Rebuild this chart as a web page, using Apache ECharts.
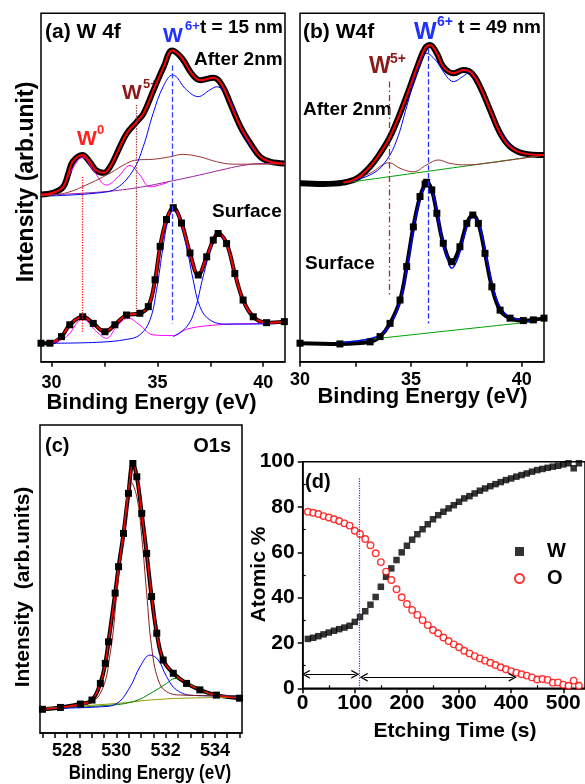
<!DOCTYPE html>
<html>
<head>
<meta charset="utf-8">
<script src="https://cdn.jsdelivr.net/npm/echarts@6/dist/echarts.min.js"></script>
<style>
  html, body { margin: 0; padding: 0; background: #fff; }
  #chart { width: 585px; height: 784px; }
</style>
</head>
<body>
<div id="chart"></div>
<script>
const FONT = '"Liberation Sans", Arial, sans-serif'

// (a) W 4f, t = 15 nm -- after 2 nm etching (upper curve)
const aTopE = [29.5, 30.07, 30.55, 30.8, 31.0, 31.46, 31.8, 32.1, 32.45, 32.77, 33.16, 33.56, 34.03, 34.35, 34.82, 35.3, 35.7, 36.16, 36.63, 37.03, 37.66, 38.05, 38.44, 38.92, 39.39, 39.86, 40.33, 41.0]
const aTopI = [48.0, 48.5, 50.2, 54.2, 57.4, 59.3, 57.4, 55.0, 54.2, 56.0, 60.8, 65.6, 68.9, 71.3, 78.0, 84.7, 89.3, 87.1, 82.6, 80.8, 81.5, 79.4, 74.2, 67.5, 62.7, 58.8, 57.4, 56.9]
const aTopBlueE = [30.0, 32.28, 33.07, 33.86, 34.33, 34.8, 35.27, 35.72, 36.38, 36.93, 37.48, 37.8, 38.43, 38.9, 39.53, 40.16, 41.0]
const aTopBlueI = [47.6, 48.5, 49.8, 55.0, 61.7, 71.3, 78.9, 82.3, 78.0, 76.1, 78.0, 78.9, 75.1, 67.5, 60.8, 57.9, 56.9]
const aTopBrownE = [29.5, 30.71, 31.81, 32.76, 33.54, 34.02, 34.8, 35.59, 36.19, 37.01, 37.8, 38.58, 41.0]
const aTopBrownI = [47.6, 48.5, 51.2, 54.1, 56.9, 57.9, 58.1, 58.8, 59.5, 58.8, 57.4, 56.7, 56.7]
const aTopW0E = [29.5, 30.39, 30.95, 31.47, 31.97, 32.6, 33.15, 33.7, 34.17, 34.65, 35.5]
const aTopW0I = [47.8, 49.3, 55.0, 58.7, 55.0, 50.7, 53.1, 56.3, 53.6, 50.2, 51.5]
const aTopBgE = [29.5, 32.3, 34.0, 35.7, 37.0, 38.0, 39.0, 40.0, 41.0]
const aTopBgI = [47.8, 48.7, 49.9, 51.9, 53.6, 55.0, 56.3, 56.9, 56.9]

// (a) surface (lower curve)
const aSurfE = [29.5, 29.92, 30.47, 30.86, 31.47, 31.97, 32.52, 32.99, 33.54, 34.17, 34.57, 34.89, 35.13, 35.43, 35.75, 36.14, 36.54, 36.93, 37.33, 37.64, 37.87, 38.27, 38.66, 39.05, 39.53, 40.16, 41.0]
const aSurfI = [5.3, 5.3, 7.2, 10.6, 12.9, 11.0, 8.6, 10.6, 13.4, 13.9, 15.8, 23.5, 33.1, 40.8, 44.2, 39.8, 31.2, 24.9, 30.1, 34.9, 36.8, 33.9, 25.3, 17.7, 12.9, 11.2, 11.5]
const aSurfBlue1E = [30.0, 32.28, 33.54, 34.17, 34.65, 34.96, 35.27, 35.51, 35.75, 36.06, 36.38, 36.69, 37.01, 37.48, 38.27, 39.53, 40.47]
const aSurfBlue1I = [5.3, 5.6, 6.4, 7.7, 12.0, 20.6, 33.0, 40.7, 43.3, 40.7, 33.0, 23.5, 15.8, 12.0, 10.8, 10.8, 11.0]
const aSurfBlue2E = [35.75, 36.38, 36.77, 37.16, 37.56, 37.87, 38.19, 38.58, 38.98, 39.53, 40.16, 40.47]
const aSurfBlue2I = [7.2, 10.0, 14.8, 24.4, 33.0, 36.4, 34.4, 27.3, 18.7, 12.9, 11.2, 11.0]
const aSurfMagE = [30.0, 30.71, 31.47, 32.13, 32.6, 33.07, 33.62, 34.17, 34.8, 35.75, 36.38, 37.33, 38.58, 40.47]
const aSurfMagI = [5.3, 7.2, 12.2, 8.6, 6.7, 10.0, 12.5, 10.5, 7.7, 7.5, 9.3, 10.3, 10.8, 11.0]
// W0 / W5+ / W6+ guide lines in (a)
const aMarkE = [31.47, 34.02, 35.72]
const aMarkTop = [53.0, 73.7, 85.0]
const aMarkBottom = [8.6, 13.9, 11.0]

// (b) W4f, t = 49 nm
const bTopE = [30.0, 31.05, 31.95, 32.56, 33.16, 33.61, 34.06, 34.51, 34.96, 35.34, 35.64, 35.86, 36.17, 36.46, 36.91, 37.37, 37.74, 38.12, 38.57, 39.02, 39.47, 40.07, 41.0]
const bTopI = [51.2, 51.0, 51.4, 52.6, 56.0, 59.8, 64.6, 71.3, 78.9, 85.6, 90.0, 90.9, 88.5, 84.7, 82.8, 83.7, 82.8, 78.9, 72.2, 65.6, 61.7, 59.8, 59.3]
const bTopBlueE = [32.1, 33.31, 33.91, 34.36, 34.81, 35.26, 35.71, 36.17, 36.62, 36.91, 37.37, 37.67, 38.12, 38.57, 39.17, 40.07, 41.0]
const bTopBlueI = [51.4, 54.1, 57.9, 63.6, 73.2, 82.8, 88.5, 86.1, 81.8, 80.4, 82.0, 83.2, 78.9, 72.2, 64.6, 59.8, 59.3]
const bTopBrownE = [32.1, 33.16, 34.03, 34.51, 35.11, 35.71, 36.24, 36.77, 37.52, 38.57, 41.0]
const bTopBrownI = [51.4, 54.1, 57.1, 55.5, 54.5, 56.5, 57.9, 56.9, 56.5, 57.1, 59.3]
const bTopBgE = [32.0, 41.0]
const bTopBgI = [51.3, 59.3]
const bSurfE = [30.0, 31.8, 33.16, 33.61, 34.06, 34.51, 34.81, 35.11, 35.41, 35.64, 35.71, 35.94, 36.17, 36.46, 36.84, 37.21, 37.52, 37.79, 38.04, 38.34, 38.65, 39.02, 39.47, 40.07, 40.52, 41.0]
const bSurfI = [5.3, 5.1, 5.7, 7.2, 11.0, 17.7, 27.3, 38.7, 47.4, 51.0, 51.5, 49.3, 42.6, 34.0, 28.7, 33.0, 39.7, 42.1, 39.7, 31.1, 21.5, 14.8, 12.5, 11.8, 12.0, 12.5]
const bSurfBlueE = [31.95, 33.46, 34.06, 34.51, 34.81, 35.19, 35.49, 35.71, 36.01, 36.32, 36.62, 36.84, 37.14, 37.52, 37.79, 38.12, 38.49, 38.87, 39.32, 39.92, 40.52]
const bSurfBlueI = [5.6, 7.2, 10.5, 17.2, 26.3, 40.7, 48.3, 50.7, 47.8, 37.8, 30.1, 26.8, 30.1, 38.7, 41.6, 38.3, 27.3, 17.7, 13.4, 12.0, 11.5]
const bSurfBgE = [31.95, 40.52]
const bSurfBgI = [5.6, 11.5]
const bMarkE = [34.02, 35.76]
const bMarkTop = [80.4, 90.0]
const bMarkBottom = [18.7, 11.0]

// (c) O1s
const cE = [527.0, 527.73, 528.54, 529.01, 529.35, 529.55, 529.68, 529.95, 530.09, 530.29, 530.49, 530.67, 530.83, 531.03, 531.23, 531.43, 531.64, 531.9, 532.31, 532.85, 533.39, 534.06, 535.0]
const cI = [7.7, 8.3, 9.4, 10.7, 16.1, 22.6, 29.6, 45.4, 54.0, 64.8, 77.8, 87.5, 83.2, 71.3, 58.3, 44.3, 32.4, 23.7, 19.4, 16.1, 14.0, 12.3, 11.3]
const cBrownE = [527.0, 528.67, 529.35, 529.75, 530.02, 530.29, 530.59, 530.83, 531.03, 531.23, 531.43, 531.7, 532.04, 532.71, 535.0]
const cBrownI = [8.0, 9.1, 12.9, 25.9, 45.4, 65.9, 81.6, 76.7, 63.7, 45.4, 28.0, 17.2, 13.4, 12.3, 12.0]
const cBlueE = [527.0, 529.35, 530.02, 530.56, 530.96, 531.37, 531.7, 532.04, 532.44, 533.12, 535.0]
const cBlueI = [8.0, 8.5, 9.6, 15.0, 21.5, 25.3, 23.7, 18.3, 14.0, 12.2, 12.0]
const cGreenE = [527.0, 529.35, 530.69, 531.5, 532.04, 532.38, 532.85, 533.39, 534.06, 535.0]
const cGreenI = [8.0, 8.8, 10.2, 13.4, 16.1, 17.7, 16.7, 14.0, 12.2, 12.0]
const cBgE = [527.0, 530.02, 531.37, 532.71, 535.0]
const cBgI = [8.0, 9.6, 10.7, 11.3, 11.6]

// (d) depth profile
const dTime = [10, 20, 30, 40, 50, 60, 70, 80, 90, 100, 110, 120, 130, 140, 150, 160, 170, 180, 190, 200,
  210, 220, 230, 240, 250, 260, 270, 280, 290, 300, 310, 320, 330, 340, 350, 360, 370, 380, 390, 400,
  410, 420, 430, 440, 450, 460, 470, 480, 490, 500, 510, 520, 530]
const dW = [21.8, 22.3, 23.0, 23.8, 24.6, 25.4, 26.1, 26.8, 27.6, 29.3, 31.5, 34.0, 36.9, 40.3, 44.8, 49.2, 52.9, 56.6, 60.0, 62.9,
  65.6, 68.0, 70.2, 72.4, 74.6, 76.4, 77.9, 79.4, 80.8, 82.3, 83.8, 84.8, 86.0, 87.2, 88.2, 89.2, 90.1, 91.0, 91.9, 92.6,
  93.4, 94.1, 94.8, 95.6, 96.3, 96.8, 97.3, 97.8, 98.2, 98.8, 99.3, 97.1, 99.3]
const dO = [77.9, 77.5, 76.9, 76.0, 75.4, 74.6, 73.8, 72.8, 71.8, 69.5, 68.1, 65.9, 63.1, 59.6, 55.7, 51.5, 47.8, 43.7, 40.2, 37.2,
  34.6, 32.4, 30.1, 27.9, 25.7, 24.3, 22.4, 20.9, 19.4, 18.1, 16.6, 15.4, 14.2, 13.2, 12.2, 11.3, 10.3, 9.3, 8.4, 7.6,
  6.9, 6.2, 5.6, 4.8, 3.9, 4.1, 3.7, 2.5, 2.6, 1.6, 1.1, 3.4, 1.1]
const dArrowFrom = [6, 117]
const dArrowTo = [101, 403]
const dArrowY = [6.2, 4.9]
const dMarkT = 108
const dMarkTop = 93

const pts = (xs, ys) => xs.map((x, i) => [x, ys[i]])

function curve (g, xs, ys, color, width, extra) {
  return Object.assign({
    type: 'line', xAxisIndex: g, yAxisIndex: g, data: pts(xs, ys),
    smooth: 0.4, symbol: 'none', silent: true,
    lineStyle: { color: color, width: width }
  }, extra || {})
}

function squares (g, xs, ys) {
  return {
    type: 'line', xAxisIndex: g, yAxisIndex: g, data: pts(xs, ys),
    smooth: 0.4, symbol: 'rect', symbolSize: 7, showAllSymbol: true, silent: true,
    itemStyle: { color: '#000' }, lineStyle: { color: '#000', width: 4 }
  }
}

function vline (x, y0, y1, color, type) {
  return [{ coord: [x, y0], lineStyle: { color: color, type: type, width: 1.3 } }, { coord: [x, y1] }]
}

function txt (text, x, y, size, color, align, extra) {
  return Object.assign({
    type: 'text', x: x, y: y, silent: true,
    style: {
      text: text, fontSize: size, fontWeight: 'bold', fontFamily: FONT,
      fill: color || '#000', align: align || 'left', verticalAlign: 'middle'
    }
  }, extra || {})
}

const frame = { show: true, borderColor: '#000', borderWidth: 1.5 }
const blackLine = { show: true, onZero: false, lineStyle: { color: '#000', width: 1.5 } }
const tickLbl = { fontSize: 18, fontWeight: 'bold', color: '#000', fontFamily: FONT }

function energyAxis (g, min, max, ticks, labels, margin) {
  return {
    gridIndex: g, type: 'value', min: min, max: max,
    axisLine: blackLine,
    axisTick: { show: true, inside: false, length: 5, lineStyle: { color: '#000', width: 1.5 }, customValues: ticks },
    axisLabel: Object.assign({ customValues: labels, margin: margin }, tickLbl),
    splitLine: { show: false }
  }
}

const arrowHead = 'path://M0,10 L5,0 L10,10 L8.4,10 L5,3.2 L1.6,10 Z'

const option = {
  animation: false,
  backgroundColor: '#fff',
  grid: [
    Object.assign({ left: 41, top: 13.3, width: 244, height: 348.4 }, frame),
    Object.assign({ left: 300, top: 13.3, width: 244, height: 348.4 }, frame),
    Object.assign({ left: 40, top: 425, width: 202, height: 308 }, frame),
    Object.assign({ left: 302.7, top: 461.7, width: 283.3, height: 226.6 }, frame)
  ],
  xAxis: [
    energyAxis(0, 29.5, 41.03, [30, 32.5, 35, 37.5, 40], [30, 35, 40], 12),
    energyAxis(1, 30, 41, [30, 32.5, 35, 37.5, 40], [30, 35, 40], 9),
    energyAxis(2, 526.9, 535.1, [527, 527.5, 528, 528.5, 529, 529.5, 530, 530.5, 531, 531.5, 532, 532.5, 533, 533.5, 534, 534.5, 535], [528, 530, 532, 534], 9),
    {
      gridIndex: 3, type: 'value', min: 0, max: 541.7,
      axisLine: blackLine,
      axisTick: { show: true, inside: false, length: 5, lineStyle: { color: '#000', width: 1.5 }, customValues: [0, 100, 200, 300, 400, 500] },
      axisLabel: { customValues: [0, 100, 200, 300, 400, 500], margin: 4, fontSize: 21, fontWeight: 'bold', color: '#000', fontFamily: FONT },
      splitLine: { show: false }
    },
    {
      gridIndex: 3, type: 'value', min: 0, max: 541.7,
      axisLine: { show: false },
      axisTick: { show: true, inside: false, length: 3, lineStyle: { color: '#000', width: 1.2 }, customValues: [50, 150, 250, 350, 450] },
      axisLabel: { show: false },
      splitLine: { show: false }
    }
  ],
  yAxis: [
    { gridIndex: 0, type: 'value', min: 0, max: 100, show: false },
    { gridIndex: 1, type: 'value', min: 0, max: 100, show: false },
    { gridIndex: 2, type: 'value', min: 0, max: 100, show: false },
    {
      gridIndex: 3, type: 'value', min: 0, max: 100, interval: 20,
      axisLine: blackLine,
      axisTick: { show: true, inside: false, length: 5, lineStyle: { color: '#000', width: 1.5 } },
      axisLabel: { margin: 8, fontSize: 21, fontWeight: 'bold', color: '#000', fontFamily: FONT },
      splitLine: { show: false }
    },
    {
      gridIndex: 3, type: 'value', min: 0, max: 100,
      axisLine: { show: false },
      axisTick: { show: true, inside: false, length: 3, lineStyle: { color: '#000', width: 1.2 }, customValues: [10, 30, 50, 70, 90] },
      axisLabel: { show: false },
      splitLine: { show: false }
    }
  ],
  legend: {
    data: ['W', 'O'],
    orient: 'vertical',
    left: 509,
    top: 536,
    itemWidth: 9,
    itemHeight: 9,
    itemGap: 6,
    selectedMode: false,
    textStyle: { fontSize: 20, fontWeight: 'bold', color: '#000', fontFamily: FONT, lineHeight: 21, padding: [0, 0, 0, 18] }
  },
  series: [
    // (a) after 2 nm
    curve(0, aTopE, aTopI, '#000', 6),
    curve(0, aTopBgE, aTopBgI, '#a020a0', 1),
    curve(0, aTopW0E, aTopW0I, '#ff00ff', 1),
    curve(0, aTopBrownE, aTopBrownI, '#993333', 1),
    curve(0, aTopBlueE, aTopBlueI, '#0000ff', 1),
    curve(0, aTopE, aTopI, '#ff0000', 2),
    // (a) surface
    Object.assign(squares(0, aSurfE, aSurfI), {
      markLine: {
        silent: true, symbol: ['none', 'none'], label: { show: false },
        data: [
          vline(aMarkE[0], aMarkTop[0], aMarkBottom[0], '#ff2020', 'dotted'),
          vline(aMarkE[1], aMarkTop[1], aMarkBottom[1], '#993333', 'dotted'),
          vline(aMarkE[2], aMarkTop[2], aMarkBottom[2], '#3344ff', 'dashed')
        ]
      }
    }),
    curve(0, aSurfMagE, aSurfMagI, '#ff00ff', 1),
    curve(0, aSurfBlue1E, aSurfBlue1I, '#0000ff', 1),
    curve(0, aSurfBlue2E, aSurfBlue2I, '#0000ff', 1),
    curve(0, aSurfE.slice(1), aSurfI.slice(1), '#ff0000', 2),
    // (b) after 2 nm
    curve(1, bTopE, bTopI, '#000', 6),
    curve(1, bTopBgE, bTopBgI, '#00a000', 1),
    curve(1, bTopBrownE, bTopBrownI, '#993333', 1),
    curve(1, bTopBlueE, bTopBlueI, '#0000ff', 1),
    curve(1, bTopE.slice(2), bTopI.slice(2), '#ff0000', 2),
    // (b) surface
    Object.assign(squares(1, bSurfE, bSurfI), {
      markLine: {
        silent: true, symbol: ['none', 'none'], label: { show: false },
        data: [
          vline(bMarkE[0], bMarkTop[0], bMarkBottom[0], '#993333', [6, 3, 1.5, 3]),
          vline(bMarkE[1], bMarkTop[1], bMarkBottom[1], '#2233ff', 'dashed')
        ]
      }
    }),
    curve(1, bSurfBgE, bSurfBgI, '#00a000', 1),
    curve(1, bSurfBlueE, bSurfBlueI, '#0000ff', 1.5),
    // (c) O1s
    squares(2, cE, cI),
    curve(2, cBgE, cBgI, '#999900', 1),
    curve(2, cGreenE, cGreenI, '#008000', 1),
    curve(2, cBlueE, cBlueI, '#0000ff', 1),
    curve(2, cBrownE, cBrownI, '#8b1a1a', 1),
    curve(2, cE, cI, '#ff0000', 1.5),
    // (d) atomic %
    {
      name: 'W', type: 'scatter', xAxisIndex: 3, yAxisIndex: 3, data: pts(dTime, dW),
      symbol: 'rect', symbolSize: 6.5, itemStyle: { color: '#000' }, silent: true,
      markLine: {
        silent: true, label: { show: false }, symbol: [arrowHead, arrowHead], symbolSize: [9, 8],
        lineStyle: { color: '#000', type: 'solid', width: 1.2 },
        data: [
          [{ coord: [dArrowFrom[0], dArrowY[0]] }, { coord: [dArrowTo[0], dArrowY[0]] }],
          [{ coord: [dArrowFrom[1], dArrowY[1]] }, { coord: [dArrowTo[1], dArrowY[1]] }],
          [{ coord: [dMarkT, 0], symbol: 'none', lineStyle: { color: '#3333ff', type: 'dotted', width: 1.2 } }, { coord: [dMarkT, dMarkTop], symbol: 'none' }]
        ]
      }
    },
    {
      name: 'O', type: 'scatter', xAxisIndex: 3, yAxisIndex: 3, data: pts(dTime, dO),
      symbol: 'circle', symbolSize: 6.5, silent: true,
      itemStyle: { color: '#fff', borderColor: '#ff0000', borderWidth: 1.4 }
    }
  ],
  graphic: [
    // (a)
    txt('(a) W 4f', 45, 32, 21),
    txt('W', 163, 36, 21, '#2030ff'),
    txt('6+', 185, 26, 13, '#2030ff'),
    txt('t = 15 nm', 200, 28, 19),
    txt('After 2nm', 194, 60, 19),
    txt('W', 122, 93, 21, '#8b1a1a'),
    txt('5+', 143, 84, 13, '#8b1a1a'),
    txt('W', 77, 139, 21, '#ff2020'),
    txt('0', 97, 130, 13, '#ff2020'),
    txt('Surface', 212, 212, 19),
    txt('Intensity (arb.unit)', 27, 182, 23, '#000', 'center', { rotation: Math.PI / 2 }),
    txt('Binding Energy (eV)', 151.5, 403, 22, '#000', 'center'),
    // (b)
    txt('(b) W4f', 303, 32, 21),
    txt('W', 414, 32, 24, '#2030ff'),
    txt('6+', 437, 22, 14, '#2030ff'),
    txt('t = 49 nm', 458, 28, 19),
    txt('W', 369, 67, 23, '#8b1a1a'),
    txt('5+', 390, 59, 14, '#8b1a1a'),
    txt('After 2nm', 303, 110, 19),
    txt('Surface', 305, 264, 19),
    txt('Binding Energy (eV)', 422.5, 397, 22, '#000', 'center'),
    // (c)
    txt('(c)', 45, 446, 20),
    txt('O1s', 231, 446, 20, '#000', 'right'),
    txt('Intensity  (arb.units)', 23, 587, 21, '#000', 'center', { rotation: Math.PI / 2 }),
    txt('Binding Energy (eV)', 150, 773, 20, '#000', 'center', { scaleX: 0.85 }),
    // (d)
    txt('(d)', 305, 482, 20),
    txt('Atomic %', 259.5, 574.5, 21, '#000', 'center', { rotation: Math.PI / 2 }),
    txt('Etching Time (s)', 455, 731, 21, '#000', 'center')
  ]
}

const chart = echarts.init(document.getElementById('chart'))
chart.setOption(option)
</script>
</body>
</html>
